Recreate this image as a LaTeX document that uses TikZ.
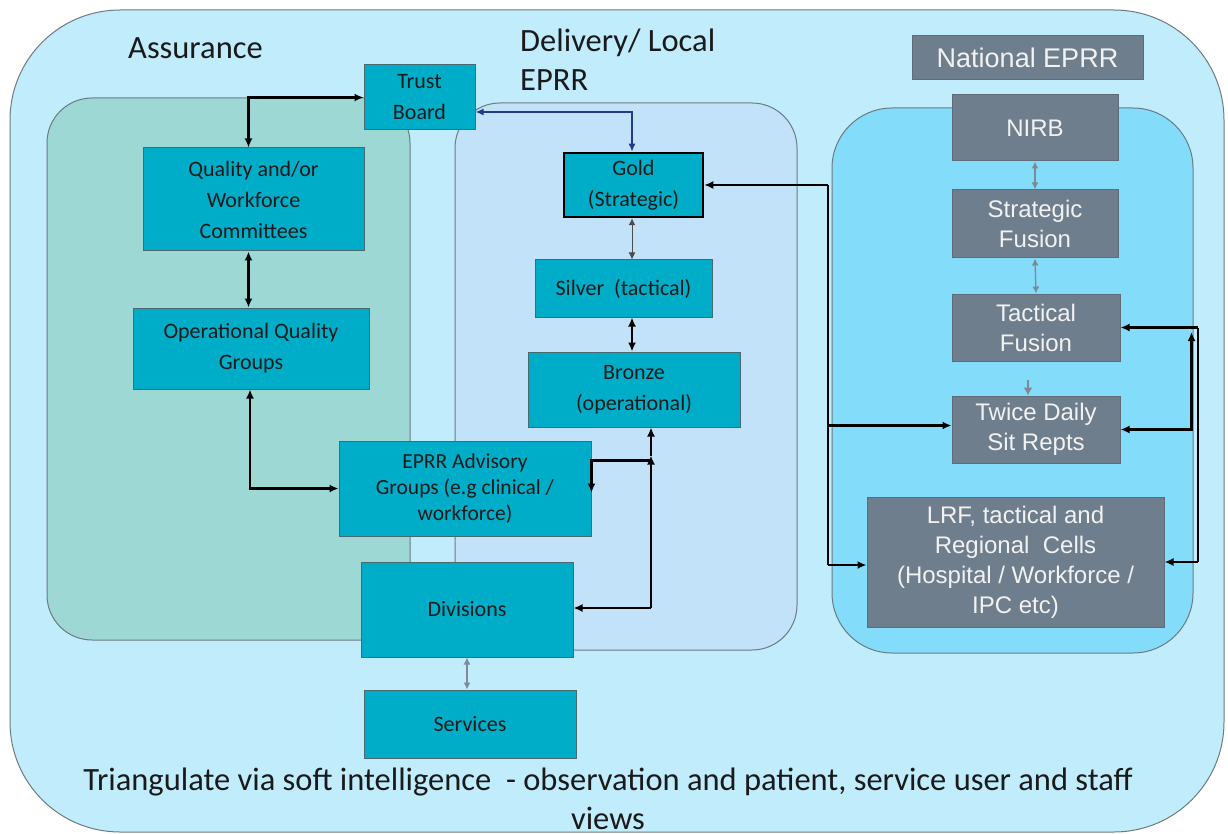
\documentclass[tikz,border=0pt]{standalone}
\usepackage{fontspec}
\setmainfont{Carlito}
\newfontfamily\arialf{Liberation Sans}
\usetikzlibrary{arrows.meta,calc}
\definecolor{outerbg}{HTML}{C0ECFC}
\definecolor{assurbg}{HTML}{9DD8D4}
\definecolor{delivbg}{HTML}{C2E2FA}
\definecolor{natbg}{HTML}{84DCFB}
\definecolor{panelline}{HTML}{6B7B80}
\definecolor{teal1}{HTML}{00ADC8}
\definecolor{tboxline}{HTML}{4A6870}
\definecolor{gray1}{HTML}{6E7E8C}
\definecolor{gboxline}{HTML}{5E6C78}
\definecolor{gtxt}{HTML}{F2F2F2}
\definecolor{txtdark}{HTML}{1A1A1A}
\definecolor{tbblue}{HTML}{1F3C8C}
\definecolor{garrow}{HTML}{7D8A95}
\begin{document}
\begin{tikzpicture}[x=1pt,y=-1pt,
  panel/.style={draw=panelline, line width=1pt},
  tbox/.style={draw=tboxline, line width=1pt, fill=teal1, inner sep=2pt, align=center, text=txtdark, font=\fontsize{22}{31}\selectfont},
  gbox/.style={draw=gboxline, line width=1pt, fill=gray1, inner sep=2pt, align=center, text=gtxt, font=\arialf\fontsize{24}{30}\selectfont},
  lbl/.style={inner sep=0pt, text=txtdark, font=\fontsize{32.5}{39}\selectfont},
  conn/.style={line width=2.2pt, draw=black, -{Latex[length=9pt,width=8pt]}},
  bconn/.style={line width=2.2pt, draw=black, {Latex[length=9pt,width=8pt]}-{Latex[length=9pt,width=8pt]}},
  plain/.style={line width=2.2pt, draw=black},
  gconn/.style={line width=1.3pt, draw=garrow, {Latex[length=7pt,width=7pt]}-{Latex[length=7pt,width=7pt]}},
  blueconn/.style={line width=2pt, draw=tbblue, {Latex[length=8pt,width=7pt]}-{Latex[length=8pt,width=7pt]}}]
\useasboundingbox (0,0) rectangle (1228,834);
% panels
\draw[panel, fill=outerbg, rounded corners=110pt] (10,10) rectangle (1224,832);
\draw[panel, fill=assurbg, rounded corners=45pt] (47,98) rectangle (410,640);
\draw[panel, fill=delivbg, rounded corners=45pt] (455,103) rectangle (797,650);
\draw[panel, fill=natbg, rounded corners=60pt] (832,108) rectangle (1193,653);
% labels
\node[lbl, anchor=base west] (assur) at (128,59) {Assurance};
\node[lbl, anchor=base west] (deliv1) at (520,52) {Delivery/ Local};
\node[lbl, anchor=base west] (deliv2) at (520,91) {EPRR};
\node[lbl, align=center, anchor=base] (tri) at (608,829) {Triangulate via soft intelligence\ \ - observation and patient, service user and staff\\views};
% teal boxes
\node[tbox, minimum width=111pt, minimum height=65pt] (tb) at (419.5,97.5) {Trust\\Board};
\node[tbox, minimum width=221pt, minimum height=103pt] (qwc) at (253.5,199.5) {Quality and/or\\Workforce\\Committees};
\node[tbox, minimum width=236pt, minimum height=81pt] (oqg) at (251,348.5) {Operational Quality\\Groups};
\node[tbox, minimum width=252pt, minimum height=95pt, font=\fontsize{21.5}{26}\selectfont] (adv) at (465,488.5) {EPRR Advisory\\Groups (e.g clinical /\\workforce)};
\node[tbox, minimum width=212pt, minimum height=95pt] (div) at (467,609.5) {Divisions};
\node[tbox, minimum width=212pt, minimum height=68pt] (serv) at (470,724) {Services};
\node[tbox, draw=black, line width=2.5pt, minimum width=139pt, minimum height=64pt] (gold) at (633.5,185) {Gold\\(Strategic)};
\node[tbox, minimum width=177pt, minimum height=57pt] (silver) at (623.5,288.5) {Silver\ \ (tactical)};
\node[tbox, minimum width=212pt, minimum height=75pt] (bronze) at (634,389.5) {Bronze\\(operational)};
% gray boxes
\node[gbox, minimum width=231pt, minimum height=44pt, font=\arialf\fontsize{27}{30}\selectfont] (nat) at (1027.5,58) {National EPRR};
\node[gbox, minimum width=166pt, minimum height=66pt] (nirb) at (1035,128) {NIRB};
\node[gbox, minimum width=166pt, minimum height=68pt] (sf) at (1035,224) {Strategic\\Fusion};
\node[gbox, minimum width=168pt, minimum height=67pt] (tf) at (1036,327.5) {Tactical\\Fusion};
\node[gbox, minimum width=168pt, minimum height=67pt] (tw) at (1036,429.5) {Twice Daily\\Sit Repts};
\node[gbox, minimum width=297pt, minimum height=130pt] (lrf) at (1015.5,562) {LRF, tactical and\\Regional\ \ Cells\\(Hospital / Workforce /\\IPC etc)};
% assurance connectors
\draw[bconn] ([xshift=-5pt]qwc.north) |- (tb.west);
\draw[bconn] ([xshift=-5pt]qwc.south) -- ([xshift=-5pt]qwc.south |- oqg.north);
\draw[bconn] ([xshift=-1pt]oqg.south) |- (adv.west);
% trust board to gold
\draw[blueconn] ([yshift=-14.5pt]tb.east) -| ([xshift=-1.5pt]gold.north);
% gold-silver-bronze
\draw[gconn, draw=black!70, line width=1pt] ([xshift=-1.5pt]gold.south) -- ([xshift=-1.5pt]gold.south |- silver.north);
\draw[bconn] ([xshift=8.5pt]silver.south) -- ([xshift=8.5pt]silver.south |- bronze.north);
% bronze to divisions and advisory
\coordinate (bz) at ([xshift=17pt]bronze.south);
\coordinate (bzm) at ($(bz)+(0,28)$);
\coordinate (ba) at ($(bz)+(0,33)$);
\draw[conn] (bzm) -- (bz);
\draw[conn] ($(bz |- div.east)+(0,-1.5)$) -- (bzm);
\draw[conn] ($(bz |- div.east)+(0,-1.5)$) -- ($(div.east)+(0,-1.5)$);
\draw[conn] (ba) -| ($(adv.east)+(0,4)$);
% national connectors
\coordinate (L) at (828,185);
\draw[plain] (L) -- (L |- lrf.west) -- ++(0,3);
\draw[conn] (L) -- (gold.east);
\draw[conn] ($(L |- tw.west)+(0,-4)$) -- ($(tw.west)+(0,-4)$);
\draw[conn] ($(L |- lrf.west)+(0,3)$) -- ($(lrf.west)+(0,3)$);
\coordinate (R) at (1198,327.5);
\draw[plain] (R) -- (R |- lrf.east);
\draw[conn] (R) -- (tf.east);
\draw[conn] (R |- lrf.east) -- (lrf.east);
\draw[bconn] (tw.east) -| (1191.5,332);
\draw[gconn] (nirb.south) -- (sf.north);
\draw[gconn] (sf.south) -- (tf.north);
\coordinate (tt) at (1028,380);
\draw[line width=1.3pt, draw=garrow, -{Latex[length=8pt,width=9pt]}] (tt) -- (tt |- tw.north);
\draw[gconn] (div.south) -- (div.south |- serv.north);
\end{tikzpicture}
\end{document}
